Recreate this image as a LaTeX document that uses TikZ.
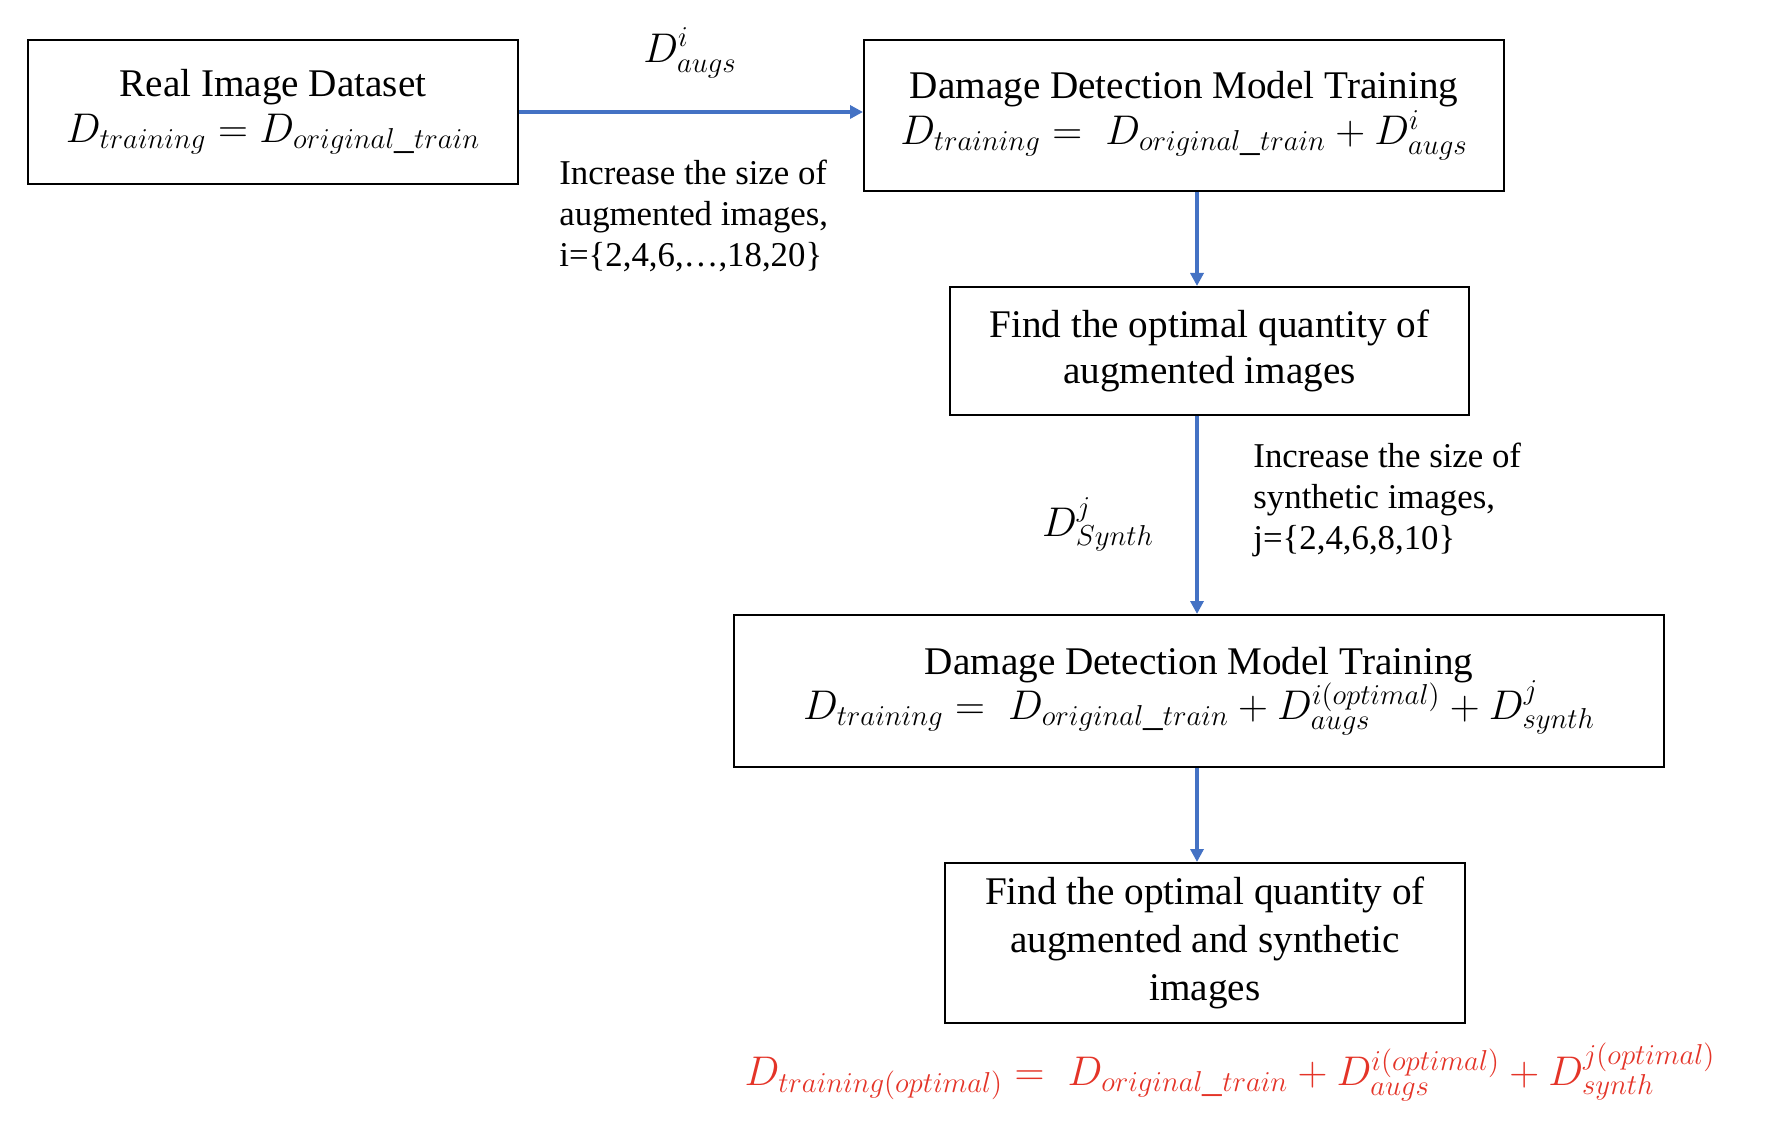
\documentclass[tikz,border=0pt]{standalone}
\usepackage{fontspec}
\setmainfont{Liberation Serif}
\usetikzlibrary{arrows.meta}
\DeclareMathSizes{19.6}{19.6}{15.4}{11.8}
\definecolor{flowblue}{RGB}{68,114,196}
\definecolor{optred}{RGB}{228,52,40}

\begin{document}
\begin{tikzpicture}[x=0.5pt,y=-0.5pt,
  box/.style={draw=black,line width=1pt,align=center,inner sep=0pt,font=\fontsize{19.6}{23}\selectfont},
  note/.style={align=left,inner sep=0pt,font=\fontsize{17.4}{20.7}\selectfont},
  flow/.style={draw=flowblue,line width=1.7pt,-{Triangle[length=6.5pt,width=6.5pt]}},
  lab/.style={inner sep=0pt,font=\fontsize{19.6}{23}\selectfont}]
\useasboundingbox (0,0) rectangle (1770,1122);
% boxes
\node[box,minimum width=245pt,minimum height=72pt] (real) at (273,112) {Real Image Dataset\\[0pt] $D_{training}=D_{original\_train}$};
\node[box,minimum width=320pt,minimum height=75.5pt] (trainaug) at (1184,115.5) {Damage Detection Model Training\\[0pt] $D_{training}=\;D_{original\_train}+D^{i}_{augs}$};
\node[box,minimum width=259.5pt,minimum height=64pt] (optaug) at (1209.5,351) {Find the optimal quantity of\\ augmented images};
\node[box,minimum width=465pt,minimum height=76pt] (trainsyn) at (1199,691) {Damage Detection Model Training\\[-2pt] $D_{training}=\;D_{original\_train}+D^{i(optimal)}_{augs}+D^{j}_{synth}$};
\node[box,minimum width=260pt,minimum height=80pt] (optall) at (1205,943) {Find the optimal quantity of\\[1pt] augmented and synthetic\\[1pt] images};
\node[lab,text=optred] (result) at (1230,1072) {$D_{training(optimal)}=\;D_{original\_train}+D^{i(optimal)}_{augs}+D^{j(optimal)}_{synth}$};
% connectors
\coordinate (spine) at (1197,0);
\draw[flow] (real.east) -- (trainaug.west |- real.east);
\draw[flow] (trainaug.south -| spine) -- (optaug.north -| spine);
\draw[flow] (optaug.south -| spine) -- (trainsyn.north -| spine);
\draw[flow] (trainsyn.south -| spine) -- (optall.north -| spine);
% labels
\node[lab] (daug) at (690,53) {$D^{i}_{augs}$};
\node[note,anchor=west] (augtext) at (559,216) {Increase the size of\\ augmented images,\\ i=\{2,4,6,\dots,18,20\}};
\node[lab] (dsyn) at (1098,524) {$D^{j}_{Synth}$};
\node[note,anchor=west] (syntext) at (1253,500) {Increase the size of\\ synthetic images,\\ j=\{2,4,6,8,10\}};
\end{tikzpicture}
\end{document}
